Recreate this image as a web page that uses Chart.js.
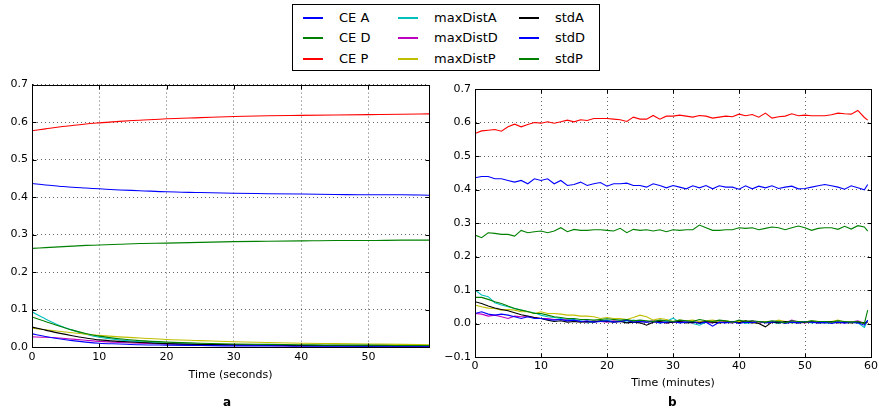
<!DOCTYPE html>
<html>
<head>
<meta charset="utf-8">
<script src="https://cdn.jsdelivr.net/npm/chart.js@4/dist/chart.umd.min.js"></script>
<style>
  body { margin: 0; background: #fff; font-family: "DejaVu Sans", sans-serif; }
  #wrap { position: relative; width: 879px; height: 414px; overflow: hidden; }
  #chartA { position: absolute; left: 0; top: 74px; }
  #chartB { position: absolute; left: 440px; top: 74px; }
  #legend { position: absolute; left: 292px; top: 4px; width: 308px; height: 67px; box-sizing: border-box;
            border: 1px solid #000; background: #fff; z-index: 2; }
  .item { position: absolute; font-size: 13px; line-height: 15px; color: #000; white-space: nowrap; }
  .item span.swatch { position: absolute; left: 0; top: 7px; width: 20px; height: 1.5px; }
  .item span.txt { position: absolute; left: 36px; top: 0; }
  .panel { position: absolute; top: 395px; font-weight: bold; font-size: 12px; }
</style>
</head>
<body>
<div id="wrap">
  <div id="legend"></div>
  <canvas id="chartA" width="440" height="340"></canvas>
  <canvas id="chartB" width="439" height="340"></canvas>
  <div class="panel" style="left:223px">a</div>
  <div class="panel" style="left:668px">b</div>
</div>
<script>
// series names and colours (shared legend)
var names = ['CE A', 'CE D', 'CE P', 'maxDistA', 'maxDistD', 'maxDistP', 'stdA', 'stdD', 'stdP'];
var colors = ['#0000ff', '#008000', '#ff0000', '#00bfbf', '#bf00bf', '#bfbf00', '#000000', '#0000ff', '#008000'];

// panel a: time in seconds
var seconds = [0, 2, 4, 6, 8, 10, 13, 16, 20, 25, 30, 35, 40, 45, 50, 55, 59];
var secCEA = [0.436, 0.432, 0.429, 0.426, 0.424, 0.422, 0.419, 0.417, 0.414, 0.412, 0.410, 0.409, 0.408, 0.407, 0.406, 0.406, 0.405];
var secCED = [0.263, 0.265, 0.267, 0.269, 0.271, 0.272, 0.274, 0.276, 0.277, 0.279, 0.281, 0.282, 0.283, 0.284, 0.284, 0.285, 0.285];
var secCEP = [0.577, 0.582, 0.587, 0.591, 0.595, 0.598, 0.602, 0.605, 0.609, 0.612, 0.615, 0.617, 0.618, 0.619, 0.620, 0.621, 0.622];
var secMaxDistA = [0.094, 0.075, 0.058, 0.045, 0.034, 0.026, 0.019, 0.014, 0.010, 0.007, 0.005, 0.004, 0.004, 0.003, 0.003, 0.003, 0.002];
var secMaxDistD = [0.027, 0.026, 0.024, 0.021, 0.018, 0.015, 0.012, 0.010, 0.008, 0.006, 0.005, 0.004, 0.003, 0.003, 0.003, 0.002, 0.002];
var secMaxDistP = [0.050, 0.046, 0.042, 0.038, 0.034, 0.031, 0.027, 0.024, 0.020, 0.017, 0.014, 0.012, 0.010, 0.009, 0.008, 0.007, 0.006];
var secStdA = [0.053, 0.045, 0.037, 0.030, 0.024, 0.019, 0.015, 0.012, 0.009, 0.007, 0.006, 0.005, 0.004, 0.004, 0.003, 0.003, 0.003];
var secStdD = [0.035, 0.028, 0.022, 0.017, 0.013, 0.010, 0.008, 0.006, 0.005, 0.004, 0.003, 0.003, 0.002, 0.002, 0.002, 0.002, 0.002];
var secStdP = [0.080, 0.068, 0.056, 0.045, 0.036, 0.029, 0.022, 0.017, 0.013, 0.010, 0.008, 0.007, 0.006, 0.005, 0.005, 0.004, 0.004];

// panel b: time in minutes
var minutes = [0, 1, 2, 3, 4, 5, 6, 7, 8, 9, 10, 11, 12, 13, 14, 15, 16, 17, 18, 19, 20, 21, 22, 23, 24, 25, 26, 27, 28, 29,
  30, 31, 32, 33, 34, 35, 36, 37, 38, 39, 40, 41, 42, 43, 44, 45, 46, 47, 48, 49, 50, 51, 52, 53, 54, 55, 56, 57, 58, 59, 59.5];
var minCEA = [0.435, 0.439, 0.439, 0.432, 0.432, 0.427, 0.422, 0.427, 0.417, 0.432, 0.427, 0.432, 0.417, 0.427, 0.412, 0.415, 0.422, 0.412, 0.417, 0.421,
  0.410, 0.417, 0.417, 0.419, 0.412, 0.412, 0.407, 0.417, 0.412, 0.405, 0.412, 0.407, 0.402, 0.411, 0.405, 0.412, 0.402, 0.411, 0.407, 0.407,
  0.401, 0.411, 0.402, 0.410, 0.405, 0.411, 0.403, 0.407, 0.410, 0.402, 0.403, 0.407, 0.411, 0.415, 0.411, 0.407, 0.401, 0.411, 0.405, 0.399, 0.415];
var minCED = [0.264, 0.256, 0.271, 0.269, 0.266, 0.266, 0.261, 0.278, 0.271, 0.274, 0.276, 0.271, 0.276, 0.286, 0.274, 0.281, 0.278, 0.278, 0.280, 0.280,
  0.278, 0.276, 0.284, 0.271, 0.281, 0.278, 0.280, 0.276, 0.280, 0.274, 0.280, 0.278, 0.280, 0.280, 0.294, 0.286, 0.278, 0.278, 0.280, 0.280,
  0.286, 0.284, 0.286, 0.280, 0.284, 0.288, 0.286, 0.280, 0.286, 0.291, 0.286, 0.278, 0.284, 0.286, 0.286, 0.281, 0.290, 0.282, 0.292, 0.288, 0.276];
var minCEP = [0.567, 0.575, 0.577, 0.579, 0.574, 0.587, 0.595, 0.587, 0.594, 0.600, 0.598, 0.602, 0.598, 0.602, 0.607, 0.602, 0.608, 0.606, 0.612, 0.612,
  0.612, 0.610, 0.608, 0.603, 0.616, 0.610, 0.610, 0.621, 0.610, 0.619, 0.619, 0.622, 0.619, 0.616, 0.621, 0.619, 0.613, 0.616, 0.619, 0.617,
  0.625, 0.620, 0.624, 0.616, 0.628, 0.613, 0.617, 0.619, 0.626, 0.620, 0.622, 0.620, 0.620, 0.620, 0.623, 0.628, 0.626, 0.625, 0.636, 0.615, 0.607];
var minMaxDistA = [0.100, 0.085, 0.080, 0.062, 0.055, 0.050, 0.045, 0.040, 0.035, 0.032, 0.025, 0.020, 0.018, 0.015, 0.012, 0.012, 0.008, 0.002, 0.005, 0.008,
  0.010, 0.006, 0.008, 0.004, 0.010, 0.006, 0.004, 0.008, 0.002, 0.006, 0.016, 0.004, 0.006, 0.000, -0.005, 0.004, 0.002, 0.006, 0.004, 0.002,
  0.008, 0.000, 0.004, 0.002, 0.006, 0.004, 0.000, 0.006, 0.002, 0.004, 0.006, 0.002, 0.004, 0.000, 0.004, 0.006, 0.002, 0.004, 0.002, -0.012, 0.010];
var minMaxDistD = [0.030, 0.028, 0.022, 0.025, 0.020, 0.015, 0.022, 0.020, 0.020, 0.018, 0.015, 0.015, 0.012, 0.012, 0.010, 0.008, 0.006, 0.004, 0.008, 0.006,
  0.004, 0.008, 0.006, 0.010, 0.004, 0.006, 0.004, 0.008, 0.006, 0.002, 0.004, 0.006, 0.004, 0.002, 0.006, 0.004, 0.002, 0.008, 0.004, 0.002,
  0.006, 0.004, 0.008, 0.002, 0.004, 0.006, 0.004, 0.002, 0.010, 0.004, 0.002, 0.006, 0.004, 0.002, 0.006, 0.004, 0.002, 0.004, 0.008, 0.000, 0.004];
var minMaxDistP = [0.055, 0.050, 0.046, 0.045, 0.040, 0.042, 0.040, 0.035, 0.035, 0.030, 0.035, 0.030, 0.030, 0.028, 0.025, 0.025, 0.022, 0.022, 0.020, 0.015,
  0.018, 0.015, 0.015, 0.012, 0.018, 0.025, 0.020, 0.010, 0.015, 0.012, 0.006, 0.010, 0.008, 0.010, 0.006, 0.008, 0.010, 0.006, 0.008, 0.004,
  0.006, 0.008, 0.000, 0.004, 0.006, 0.004, 0.010, 0.006, 0.002, 0.006, 0.004, 0.008, 0.006, 0.004, 0.006, 0.010, 0.004, 0.006, 0.004, 0.000, 0.004];
var minStdA = [0.065, 0.060, 0.052, 0.046, 0.042, 0.038, 0.032, 0.026, 0.022, 0.018, 0.015, 0.010, 0.006, 0.008, 0.004, 0.006, 0.004, 0.006, 0.004, 0.008,
  0.006, 0.004, 0.006, 0.002, 0.004, 0.002, -0.005, 0.004, 0.006, 0.002, 0.004, 0.006, 0.002, 0.004, 0.002, 0.006, 0.004, 0.002, 0.004, 0.006,
  0.002, 0.008, 0.004, 0.000, -0.010, 0.004, 0.002, 0.006, 0.004, 0.002, 0.004, 0.006, 0.002, 0.004, 0.006, 0.002, 0.004, 0.002, 0.004, 0.002, 0.005];
var minStdD = [0.030, 0.035, 0.028, 0.025, 0.028, 0.025, 0.020, 0.015, 0.020, 0.015, 0.015, 0.012, 0.010, 0.012, 0.008, 0.010, 0.006, 0.008, 0.004, 0.006,
  0.008, 0.004, 0.006, 0.010, 0.004, 0.006, 0.004, 0.006, 0.002, 0.004, 0.006, 0.002, 0.004, 0.006, 0.000, 0.004, -0.008, 0.004, 0.002, 0.006,
  0.000, 0.004, 0.002, 0.006, 0.002, 0.004, 0.006, 0.000, 0.004, 0.002, 0.006, 0.004, 0.002, 0.004, 0.000, 0.004, 0.002, 0.004, 0.002, -0.005, 0.010];
var minStdP = [0.078, 0.078, 0.072, 0.065, 0.060, 0.052, 0.045, 0.040, 0.036, 0.030, 0.030, 0.025, 0.020, 0.018, 0.015, 0.015, 0.012, 0.012, 0.010, 0.012,
  0.014, 0.012, 0.010, 0.012, 0.008, 0.010, 0.008, 0.006, 0.010, 0.008, 0.006, 0.010, 0.008, 0.006, 0.012, 0.008, 0.006, 0.010, 0.008, 0.004,
  0.010, 0.006, 0.008, 0.006, 0.004, 0.008, 0.006, 0.002, 0.008, 0.006, 0.004, 0.008, 0.006, 0.006, 0.004, 0.008, 0.006, 0.004, 0.006, 0.000, 0.040];

var secSeries = [secCEA, secCED, secCEP, secMaxDistA, secMaxDistD, secMaxDistP, secStdA, secStdD, secStdP];
var minSeries = [minCEA, minCED, minCEP, minMaxDistA, minMaxDistD, minMaxDistP, minStdA, minStdD, minStdP];

// legend (3 columns x 3 rows)
var legend = document.getElementById('legend');
var colLeft = [10, 105, 226];
var rowTop = [5, 25, 46];
names.forEach(function(name, i) {
  var item = document.createElement('div');
  item.className = 'item';
  item.style.left = colLeft[Math.floor(i / 3)] + 'px';
  item.style.top = rowTop[i % 3] + 'px';
  item.innerHTML = '<span class="swatch" style="background:' + colors[i] + '"></span><span class="txt">' + name + '</span>';
  legend.appendChild(item);
});

// box around the plot area plus inward tick marks on all four sides
var frame = {
  id: 'frame',
  afterDatasetsDraw: function(chart) {
    var a = chart.chartArea, ctx = chart.ctx;
    var L = Math.round(a.left) + 0.5, T = Math.round(a.top) + 0.5;
    var R = Math.round(a.right) + 0.5, B = Math.round(a.bottom) + 0.5;
    ctx.save();
    ctx.strokeStyle = '#000';
    ctx.lineWidth = 1;
    ctx.strokeRect(L, T, R - L, B - T);
    ctx.beginPath();
    chart.scales.x.ticks.forEach(function(t) {
      var px = Math.round(chart.scales.x.getPixelForValue(t.value)) + 0.5;
      ctx.moveTo(px, B); ctx.lineTo(px, B - 4);
      ctx.moveTo(px, T); ctx.lineTo(px, T + 4);
    });
    chart.scales.y.ticks.forEach(function(t) {
      var py = Math.round(chart.scales.y.getPixelForValue(t.value)) + 0.5;
      ctx.moveTo(L, py); ctx.lineTo(L + 4, py);
      ctx.moveTo(R, py); ctx.lineTo(R - 4, py);
    });
    ctx.stroke();
    ctx.restore();
  }
};

function buildDatasets(xs, series, smooth) {
  return series.map(function(ys, i) {
    return {
      label: names[i],
      data: xs.map(function(x, j) { return { x: x, y: ys[j] }; }),
      borderColor: colors[i],
      borderWidth: 1.1,
      pointRadius: 0,
      fill: false,
      cubicInterpolationMode: smooth ? 'monotone' : 'default',
      tension: 0,
      order: series.length - i
    };
  });
}

function tickFmt(v) {
  var s = Math.abs(v).toFixed(1);
  return v < -1e-9 ? '\u2212' + s : s;
}

function makeChart(id, xs, series, smooth, xMax, yMin, xTitle, axisWidth, tickPad, rightPad, padding) {
  var font = { family: 'DejaVu Sans', size: 11 };
  return new Chart(document.getElementById(id), {
    type: 'line',
    data: { datasets: buildDatasets(xs, series, smooth) },
    options: {
      responsive: false,
      animation: false,
      layout: { padding: padding },
      plugins: { legend: { display: false }, tooltip: { enabled: false } },
      scales: {
        x: {
          type: 'linear', min: 0, max: xMax,
          grid: { color: 'rgba(0,0,0,0.6)', drawTicks: false },
          border: { color: '#000', dash: [1, 3] },
          ticks: { stepSize: 10, font: font, color: '#000', padding: tickPad, maxRotation: 0 },
          afterBuildTicks: function(s) { s.ticks = s.ticks.filter(function(t) { return t.value % 10 === 0; }); },
          afterFit: function(s) { s.paddingRight = rightPad; },
          title: { display: true, text: xTitle, font: font, color: '#000', padding: { top: 0, bottom: 4 } }
        },
        y: {
          min: yMin, max: 0.7,
          grid: { color: 'rgba(0,0,0,0.6)', drawTicks: false },
          border: { color: '#000', dash: [1, 3] },
          ticks: { stepSize: 0.1, font: font, color: '#000', padding: 4, callback: tickFmt },
          afterFit: function(s) { s.width = axisWidth; }
        }
      }
    },
    plugins: [frame]
  });
}

makeChart('chartA', seconds, secSeries, true, 59, 0, 'Time (seconds)', 32, 4, 11, { top: 10, right: 0, bottom: 28.6, left: 0 });
makeChart('chartB', minutes, minSeries, false, 60, -0.1, 'Time (minutes)', 35, 3, 8, { top: 15, right: 0, bottom: 20.6, left: 0 });
</script>
</body>
</html>
